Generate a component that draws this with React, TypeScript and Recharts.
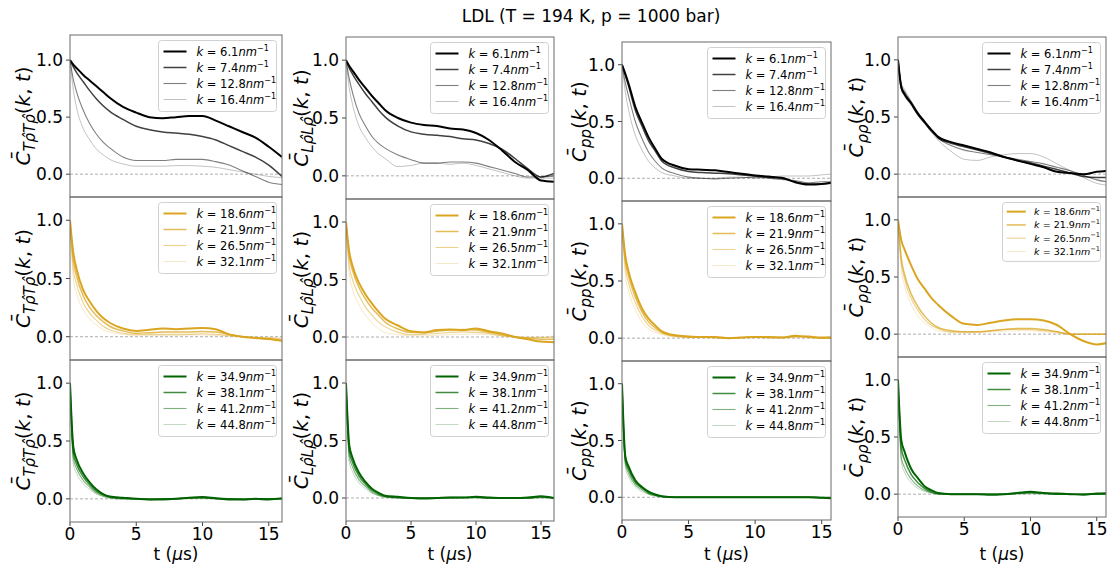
import { LineChart, Line, XAxis, YAxis, ReferenceLine } from "recharts"

// time grid (µs)
const T_US = [0, 0.25, 0.5, 1, 1.5, 2, 2.5, 3, 4, 5, 6, 7, 8, 9, 10, 11, 12, 13, 14, 15, 16]

// ---- row A : k = 6.1, 7.4, 12.8, 16.4 nm^-1
const TT_A1 = [1.0, 0.96, 0.93, 0.87, 0.82, 0.77, 0.72, 0.67, 0.59, 0.54, 0.50, 0.49, 0.50, 0.51, 0.51, 0.47, 0.42, 0.37, 0.32, 0.24, 0.15]
const TT_A2 = [1.0, 0.94, 0.89, 0.81, 0.73, 0.66, 0.60, 0.55, 0.48, 0.42, 0.39, 0.37, 0.36, 0.35, 0.33, 0.30, 0.25, 0.20, 0.15, 0.08, -0.02]
const TT_A3 = [1.0, 0.83, 0.72, 0.56, 0.44, 0.35, 0.28, 0.23, 0.15, 0.12, 0.12, 0.12, 0.13, 0.13, 0.13, 0.11, 0.08, 0.03, -0.02, -0.07, -0.09]
const TT_A4 = [1.0, 0.74, 0.58, 0.40, 0.30, 0.22, 0.17, 0.13, 0.09, 0.07, 0.07, 0.07, 0.075, 0.075, 0.07, 0.06, 0.04, 0.02, 0.0, -0.02, -0.03]

const LL_A1 = [1.0, 0.95, 0.91, 0.83, 0.76, 0.69, 0.63, 0.57, 0.50, 0.46, 0.44, 0.43, 0.41, 0.40, 0.37, 0.31, 0.22, 0.12, 0.05, -0.04, -0.05]
const LL_A2 = [1.0, 0.93, 0.88, 0.79, 0.71, 0.64, 0.57, 0.51, 0.43, 0.38, 0.36, 0.35, 0.34, 0.32, 0.31, 0.28, 0.23, 0.15, 0.06, -0.01, 0.02]
const LL_A3 = [1.0, 0.84, 0.72, 0.54, 0.43, 0.34, 0.28, 0.24, 0.18, 0.14, 0.11, 0.11, 0.12, 0.12, 0.11, 0.08, 0.05, 0.02, -0.01, -0.01, 0.0]
const LL_A4 = [1.0, 0.76, 0.62, 0.43, 0.33, 0.25, 0.19, 0.15, 0.08, 0.09, 0.11, 0.11, 0.10, 0.11, 0.09, 0.06, 0.03, 0.0, -0.02, -0.02, -0.02]

const PP_A1 = [1.0, 0.92, 0.83, 0.63, 0.49, 0.36, 0.26, 0.17, 0.11, 0.08, 0.075, 0.07, 0.055, 0.04, 0.025, 0.015, 0.005, -0.035, -0.055, -0.05, -0.035]
const PP_A2 = [1.0, 0.91, 0.81, 0.60, 0.46, 0.33, 0.24, 0.15, 0.09, 0.06, 0.05, 0.045, 0.04, 0.03, 0.02, 0.01, 0.0, -0.03, -0.05, -0.05, -0.04]
const PP_A3 = [1.0, 0.84, 0.72, 0.50, 0.35, 0.23, 0.15, 0.09, 0.04, 0.01, 0.0, -0.005, 0.0, 0.005, 0.01, 0.0, -0.01, -0.02, -0.04, -0.03, -0.03]
const PP_A4 = [1.0, 0.76, 0.60, 0.38, 0.25, 0.15, 0.09, 0.05, 0.02, 0.0, 0.0, 0.0, 0.01, 0.01, 0.0, 0.01, 0.02, 0.02, 0.02, 0.03, 0.04]

const RR_A1 = [1.0, 0.76, 0.70, 0.62, 0.53, 0.46, 0.39, 0.33, 0.28, 0.25, 0.22, 0.19, 0.15, 0.12, 0.09, 0.06, 0.02, 0.01, 0.0, 0.02, 0.03]
const RR_A2 = [1.0, 0.75, 0.69, 0.61, 0.52, 0.45, 0.38, 0.32, 0.27, 0.24, 0.21, 0.18, 0.15, 0.12, 0.10, 0.07, 0.04, 0.01, -0.02, -0.03, -0.03]
const RR_A3 = [1.0, 0.78, 0.72, 0.63, 0.54, 0.46, 0.39, 0.32, 0.25, 0.21, 0.19, 0.17, 0.15, 0.13, 0.11, 0.09, 0.06, 0.03, -0.01, -0.05, -0.07]
const RR_A4 = [1.0, 0.80, 0.74, 0.64, 0.54, 0.45, 0.37, 0.30, 0.20, 0.13, 0.12, 0.15, 0.17, 0.18, 0.18, 0.15, 0.09, 0.03, -0.03, -0.08, -0.10]

// ---- row B : k = 18.6, 21.9, 26.5, 32.1 nm^-1
const TT_B1 = [1.0, 0.72, 0.58, 0.40, 0.30, 0.22, 0.16, 0.12, 0.07, 0.05, 0.06, 0.07, 0.065, 0.07, 0.075, 0.065, 0.02, 0.0, -0.01, -0.02, -0.035]
const TT_B2 = [1.0, 0.66, 0.52, 0.35, 0.25, 0.18, 0.13, 0.09, 0.05, 0.03, 0.035, 0.04, 0.04, 0.04, 0.045, 0.04, 0.02, 0.0, -0.01, -0.02, -0.03]
const TT_B3 = [1.0, 0.58, 0.45, 0.29, 0.20, 0.14, 0.09, 0.06, 0.03, 0.02, 0.02, 0.02, 0.02, 0.02, 0.025, 0.02, 0.01, 0.0, -0.01, -0.01, -0.02]
const TT_B4 = [1.0, 0.50, 0.37, 0.23, 0.15, 0.10, 0.06, 0.04, 0.02, 0.01, 0.01, 0.01, 0.01, 0.015, 0.015, 0.01, 0.005, 0.0, -0.005, -0.01, -0.01]

const LL_B1 = [1.0, 0.74, 0.62, 0.47, 0.37, 0.29, 0.22, 0.16, 0.10, 0.05, 0.04, 0.06, 0.065, 0.06, 0.075, 0.05, 0.03, 0.0, -0.02, -0.04, -0.045]
const LL_B2 = [1.0, 0.70, 0.58, 0.43, 0.33, 0.25, 0.19, 0.13, 0.07, 0.04, 0.04, 0.05, 0.06, 0.065, 0.06, 0.04, 0.02, 0.0, -0.01, -0.02, -0.02]
const LL_B3 = [1.0, 0.62, 0.50, 0.36, 0.26, 0.19, 0.13, 0.09, 0.04, 0.02, 0.025, 0.03, 0.04, 0.045, 0.04, 0.03, 0.01, 0.0, -0.005, -0.005, 0.0]
const LL_B4 = [1.0, 0.55, 0.42, 0.28, 0.19, 0.12, 0.07, 0.04, 0.02, 0.01, 0.01, 0.015, 0.02, 0.025, 0.025, 0.02, 0.01, 0.005, 0.0, 0.0, 0.01]

const PP_B1 = [1.0, 0.72, 0.58, 0.40, 0.26, 0.17, 0.11, 0.06, 0.025, 0.015, 0.01, 0.01, 0.0, 0.005, 0.01, 0.01, 0.005, 0.02, 0.01, 0.005, 0.01]
const PP_B2 = [1.0, 0.68, 0.54, 0.36, 0.23, 0.14, 0.09, 0.05, 0.02, 0.01, 0.01, 0.005, 0.0, 0.005, 0.01, 0.005, 0.005, 0.015, 0.015, 0.0, 0.005]
const PP_B3 = [1.0, 0.62, 0.48, 0.31, 0.19, 0.11, 0.07, 0.04, 0.015, 0.01, 0.005, 0.005, 0.0, 0.005, 0.005, 0.005, 0.01, 0.01, 0.02, 0.0, 0.0]
const PP_B4 = [1.0, 0.55, 0.41, 0.25, 0.14, 0.08, 0.05, 0.03, 0.01, 0.005, 0.005, 0.0, 0.0, 0.005, 0.005, 0.0, 0.005, 0.01, 0.01, -0.005, 0.0]

const RR_B1 = [1.0, 0.82, 0.74, 0.60, 0.48, 0.40, 0.32, 0.26, 0.16, 0.09, 0.08, 0.10, 0.12, 0.13, 0.13, 0.12, 0.08, 0.0, -0.06, -0.09, -0.07]
const RR_B2 = [1.0, 0.66, 0.52, 0.35, 0.24, 0.16, 0.10, 0.06, 0.03, 0.02, 0.02, 0.03, 0.04, 0.05, 0.05, 0.04, 0.02, 0.0, 0.0, 0.0, 0.0]
const RR_B3 = [1.0, 0.62, 0.48, 0.31, 0.21, 0.13, 0.08, 0.05, 0.02, 0.02, 0.02, 0.03, 0.04, 0.04, 0.04, 0.03, 0.02, 0.0, 0.0, 0.0, 0.0]
const RR_B4 = [1.0, 0.56, 0.42, 0.26, 0.16, 0.10, 0.06, 0.03, 0.015, 0.01, 0.015, 0.02, 0.025, 0.03, 0.03, 0.02, 0.01, 0.0, 0.0, 0.0, 0.0]

// ---- row C : k = 34.9, 38.1, 41.2, 44.8 nm^-1
const TT_C1 = [1.0, 0.45, 0.34, 0.22, 0.14, 0.08, 0.04, 0.02, 0.01, 0.0, -0.005, -0.005, 0.0, 0.01, 0.015, 0.005, -0.005, -0.005, 0.0, -0.005, 0.005]
const TT_C2 = [1.0, 0.40, 0.30, 0.19, 0.12, 0.065, 0.035, 0.015, 0.005, 0.0, -0.005, 0.0, 0.0, 0.01, 0.01, 0.005, 0.0, -0.005, 0.0, 0.0, 0.0]
const TT_C3 = [1.0, 0.35, 0.26, 0.16, 0.10, 0.05, 0.025, 0.01, 0.0, 0.0, 0.0, 0.0, 0.0, 0.005, 0.01, 0.0, 0.0, 0.0, 0.0, 0.0, 0.0]
const TT_C4 = [1.0, 0.30, 0.22, 0.13, 0.08, 0.04, 0.02, 0.005, 0.0, 0.0, 0.0, 0.0, 0.0, 0.005, 0.005, 0.0, 0.0, 0.0, 0.0, 0.0, 0.0]

const LL_C1 = [1.0, 0.46, 0.35, 0.22, 0.14, 0.08, 0.045, 0.02, 0.01, 0.0, -0.005, 0.0, 0.005, 0.005, 0.01, 0.005, 0.0, 0.0, 0.005, 0.015, 0.0]
const LL_C2 = [1.0, 0.41, 0.31, 0.19, 0.12, 0.065, 0.035, 0.015, 0.005, 0.0, 0.0, 0.0, 0.005, 0.005, 0.005, 0.0, 0.0, 0.0, 0.0, 0.01, 0.0]
const LL_C3 = [1.0, 0.36, 0.27, 0.16, 0.10, 0.05, 0.025, 0.01, 0.0, 0.0, 0.0, 0.0, 0.0, 0.005, 0.005, 0.0, 0.0, 0.0, 0.0, 0.005, 0.0]
const LL_C4 = [1.0, 0.31, 0.23, 0.13, 0.08, 0.04, 0.02, 0.005, 0.0, 0.0, 0.0, 0.0, 0.0, 0.0, 0.005, 0.0, 0.0, 0.0, 0.0, 0.0, 0.0]

const PP_C1 = [1.0, 0.36, 0.27, 0.15, 0.09, 0.05, 0.025, 0.01, 0.0, 0.0, 0.0, 0.0, 0.0, 0.0, 0.0, 0.0, 0.0, 0.0, 0.0, -0.005, -0.01]
const PP_C2 = [1.0, 0.33, 0.24, 0.13, 0.08, 0.04, 0.02, 0.008, 0.0, 0.0, 0.0, 0.0, 0.0, 0.0, 0.0, 0.0, 0.0, 0.0, 0.0, -0.005, -0.005]
const PP_C3 = [1.0, 0.30, 0.21, 0.11, 0.065, 0.03, 0.015, 0.005, 0.0, 0.0, 0.0, 0.0, 0.0, 0.0, 0.0, 0.0, 0.0, 0.0, 0.0, 0.0, 0.0]
const PP_C4 = [1.0, 0.27, 0.18, 0.09, 0.05, 0.025, 0.01, 0.0, 0.0, 0.0, 0.0, 0.0, 0.0, 0.0, 0.0, 0.0, 0.0, 0.0, 0.0, 0.0, 0.0]

const RR_C1 = [1.0, 0.47, 0.37, 0.22, 0.14, 0.07, 0.035, 0.01, 0.0, 0.0, 0.0, -0.005, 0.0, 0.01, 0.02, 0.01, 0.005, 0.0, -0.005, 0.005, 0.01]
const RR_C2 = [1.0, 0.40, 0.30, 0.17, 0.10, 0.05, 0.02, 0.005, 0.0, 0.0, 0.0, 0.0, 0.0, 0.01, 0.015, 0.01, 0.0, 0.0, 0.0, 0.0, 0.005]
const RR_C3 = [1.0, 0.32, 0.23, 0.13, 0.07, 0.035, 0.015, 0.0, 0.0, 0.0, 0.0, 0.0, 0.0, 0.005, 0.01, 0.005, 0.0, 0.0, 0.0, 0.0, 0.0]
const RR_C4 = [1.0, 0.28, 0.19, 0.10, 0.05, 0.025, 0.01, 0.0, 0.0, 0.0, 0.0, 0.0, 0.0, 0.0, 0.005, 0.0, 0.0, 0.0, 0.0, 0.0, 0.0]

// legend k values per row
const K_ROW_A = ["6.1", "7.4", "12.8", "16.4"]
const K_ROW_B = ["18.6", "21.9", "26.5", "32.1"]
const K_ROW_C = ["34.9", "38.1", "41.2", "44.8"]

const X_TICKS = [0, 5, 10, 15]
const Y_TICKS = [0, 0.5, 1]

const ROW_COLORS = ["#000000", "#DAA520", "#006400"]
const LINE_WIDTHS = [2, 1.5, 1.1, 0.8]
const LINE_ALPHAS = [1, 0.75, 0.5, 0.3]

const FONT = "DejaVu Sans"

// ---------------------------------------------------------------------------
// layout
// ---------------------------------------------------------------------------

const COLUMNS = [
  { sub: "Tρ̂Tρ̂", L: 70, R: 282, xMax: 16, labelX: 30, edges: [35, 197, 360, 522], rows: [[TT_A1, TT_A2, TT_A3, TT_A4], [TT_B1, TT_B2, TT_B3, TT_B4], [TT_C1, TT_C2, TT_C3, TT_C4]] },
  { sub: "Lρ̂Lρ̂", L: 346, R: 554, xMax: 16, labelX: 308, edges: [37, 199, 360, 521], rows: [[LL_A1, LL_A2, LL_A3, LL_A4], [LL_B1, LL_B2, LL_B3, LL_B4], [LL_C1, LL_C2, LL_C3, LL_C4]] },
  { sub: "pp", L: 622, R: 831, xMax: 15.7, labelX: 586, edges: [42, 201, 361, 520], rows: [[PP_A1, PP_A2, PP_A3, PP_A4], [PP_B1, PP_B2, PP_B3, PP_B4], [PP_C1, PP_C2, PP_C3, PP_C4]] },
  { sub: "ρρ", L: 898, R: 1106, xMax: 15.7, labelX: 863, edges: [37, 197, 357, 517], rows: [[RR_A1, RR_A2, RR_A3, RR_A4], [RR_B1, RR_B2, RR_B3, RR_B4], [RR_C1, RR_C2, RR_C3, RR_C4]] },
]
const ROW_K = [K_ROW_A, K_ROW_B, K_ROW_C]

const Y_W = 60
const X_H = 40
const PAD_R = 12

function Panel({ col, row }: { col: number; row: number }) {
  const c = COLUMNS[col]
  const series = c.rows[row]
  const top = c.edges[row]
  const h = c.edges[row + 1] - top
  const w = c.R - c.L
  const showX = row === 2
  const yMax = col === 0 && row === 0 ? 1.22 : 1.2
  const data = T_US.map((t, i) => ({ t, s0: series[0][i], s1: series[1][i], s2: series[2][i], s3: series[3][i] }))
  const tick = { fontSize: 17, fill: "#000", fontFamily: FONT }
  const cw = w + Y_W + PAD_R
  const ch = h + (showX ? X_H : 0)

  return (
    <div style={{ position: "absolute", left: c.L - Y_W, top, width: cw, height: ch }}>
      <LineChart width={cw} height={ch} data={data} margin={{ top: 0, right: PAD_R, bottom: 0, left: 0 }}>
        <XAxis
          type="number"
          dataKey="t"
          domain={[0, c.xMax]}
          allowDataOverflow
          ticks={X_TICKS}
          hide={!showX}
          height={X_H}
          tick={tick}
          tickSize={4}
          tickMargin={2}
          axisLine={false}
          tickLine={{ stroke: "#444" }}
        />
        <YAxis
          type="number"
          domain={[-0.2, yMax]}
          allowDataOverflow
          ticks={Y_TICKS}
          tickFormatter={(v: number) => v.toFixed(1)}
          width={Y_W}
          tick={tick}
          tickSize={4}
          tickMargin={3}
          axisLine={false}
          tickLine={{ stroke: "#444" }}
        />
        <ReferenceLine y={0} stroke="#999" strokeDasharray="3 2" strokeWidth={0.8} />
        {series.map((_, i) => (
          <Line
            key={i}
            dataKey={`s${i}`}
            type="monotone"
            stroke={ROW_COLORS[row]}
            strokeWidth={LINE_WIDTHS[i]}
            strokeOpacity={LINE_ALPHAS[i]}
            dot={false}
            isAnimationActive={false}
          />
        ))}
      </LineChart>
    </div>
  )
}

// legend box, top-right of a panel
function LegendBox({ col, row }: { col: number; row: number }) {
  const c = COLUMNS[col]
  const small = col === 3 && row === 1
  const s = small ? 0.83 : 1
  const w = 118 * s
  const h = 71 * s
  const x = c.R - 5.5 - w
  const y = c.edges[row] + 5.5
  const fs = 11.5 * s
  return (
    <g>
      <rect x={x} y={y} width={w} height={h} rx={3} fill="#fff" fillOpacity={0.85} stroke="#d0d0d0" strokeWidth={1} />
      {ROW_K[row].map((k, i) => {
        const cy = y + (11 + i * 16) * s
        return (
          <g key={k}>
            <line x1={x + 5 * s} x2={x + 28 * s} y1={cy} y2={cy} stroke={ROW_COLORS[row]} strokeWidth={LINE_WIDTHS[i]} strokeOpacity={LINE_ALPHAS[i]} />
            <text x={x + 38 * s} y={cy + 4 * s} fontSize={fs} fontFamily={FONT} fill="#000">
              <tspan fontStyle="italic">k</tspan>
              <tspan>{" = " + k}</tspan>
              <tspan fontStyle="italic">nm</tspan>
              <tspan fontSize={fs * 0.7} dy={-5 * s}>−1</tspan>
            </text>
          </g>
        )
      })}
    </g>
  )
}

function YLabel({ col, row }: { col: number; row: number }) {
  const c = COLUMNS[col]
  const cy = (c.edges[row] + c.edges[row + 1]) / 2
  return (
    <text transform={`translate(${c.labelX},${cy}) rotate(-90)`} textAnchor="middle" fontSize={20} fontFamily={FONT} fill="#000">
      <tspan fontStyle="italic">{"C\u0304"}</tspan>
      <tspan fontStyle="italic" fontSize={15} dy={5}>{c.sub}</tspan>
      <tspan dy={-5}>(</tspan>
      <tspan fontStyle="italic">k</tspan>
      <tspan>, </tspan>
      <tspan fontStyle="italic">t</tspan>
      <tspan>)</tspan>
    </text>
  )
}

export default function App() {
  const cells: Array<{ col: number; row: number }> = []
  COLUMNS.forEach((_, col) => [0, 1, 2].forEach((row) => cells.push({ col, row })))

  return (
    <div style={{ position: "absolute", left: 0, top: 0, width: 1120, height: 569, background: "#fff", fontFamily: FONT }}>
      {cells.map(({ col, row }) => (
        <Panel key={`${col}-${row}`} col={col} row={row} />
      ))}

      <svg width={1120} height={569} style={{ position: "absolute", left: 0, top: 0, pointerEvents: "none" }}>
        <text x={591} y={22} textAnchor="middle" fontSize={17} fontFamily={FONT} fill="#000">
          LDL (T = 194 K, p = 1000 bar)
        </text>

        {cells.map(({ col, row }) => {
          const c = COLUMNS[col]
          return (
            <rect
              key={`f-${col}-${row}`}
              x={c.L}
              y={c.edges[row]}
              width={c.R - c.L}
              height={c.edges[row + 1] - c.edges[row]}
              fill="none"
              stroke="#6a6a6a"
              strokeWidth={1}
            />
          )
        })}

        {cells.map(({ col, row }) => (
          <LegendBox key={`l-${col}-${row}`} col={col} row={row} />
        ))}

        {cells.map(({ col, row }) => (
          <YLabel key={`y-${col}-${row}`} col={col} row={row} />
        ))}

        {COLUMNS.map((c, i) => (
          <text key={`x-${i}`} x={(c.L + c.R) / 2} y={560} textAnchor="middle" fontSize={17} fontFamily={FONT} fill="#000">
            {"t ("}
            <tspan fontStyle="italic">μ</tspan>
            {"s)"}
          </text>
        ))}
      </svg>
    </div>
  )
}
